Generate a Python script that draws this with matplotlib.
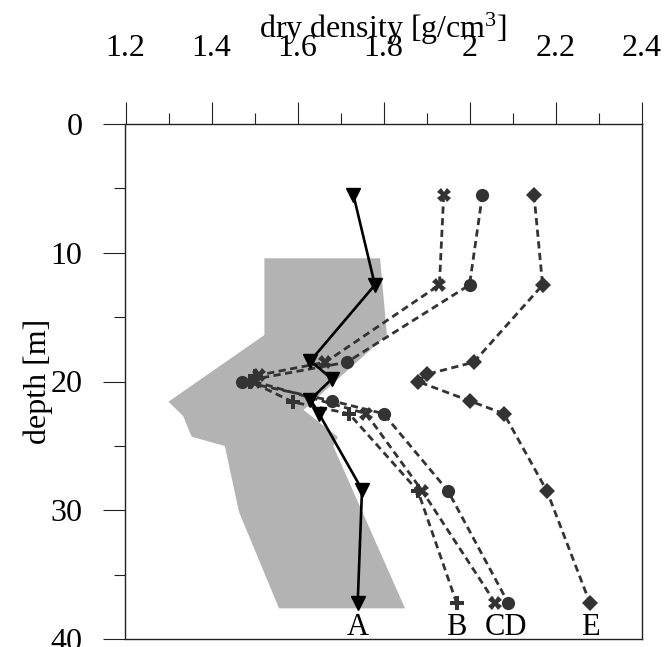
import matplotlib
matplotlib.use("Agg")
import matplotlib.pyplot as plt
from matplotlib.ticker import MultipleLocator

plt.rcParams['font.family'] = ['Liberation Serif', 'DejaVu Serif']
plt.rcParams['mathtext.fontset'] = 'custom'
plt.rcParams['mathtext.rm'] = 'Liberation Serif'
plt.rcParams['mathtext.it'] = 'Liberation Serif:italic'

# ---- data ----
A_depth = [5.5, 12.5, 18.4, 19.8, 21.4, 22.5, 28.4, 37.2]
A_dens = [1.73, 1.78, 1.63, 1.68, 1.63, 1.65, 1.75, 1.74]

B_depth = [19.6, 20.0, 21.6, 22.5, 28.5, 37.2]
B_dens = [1.50, 1.49, 1.59, 1.72, 1.88, 1.97]

C_depth = [5.5, 12.5, 18.5, 19.5, 20.0, 22.5, 28.5, 37.2]
C_dens = [1.94, 1.93, 1.665, 1.51, 1.50, 1.76, 1.89, 2.06]

D_depth = [5.5, 12.5, 18.5, 20.0, 21.5, 22.5, 28.5, 37.2]
D_dens = [2.03, 2.00, 1.715, 1.47, 1.68, 1.80, 1.95, 2.09]

E_depth = [5.5, 12.5, 18.5, 19.45, 20.0, 21.5, 22.5, 28.5, 37.2]
E_dens = [2.15, 2.17, 2.01, 1.90, 1.88, 2.00, 2.08, 2.18, 2.28]

band_dens = [1.523, 1.792, 1.808, 1.614, 1.694, 1.683, 1.755, 1.850,
             1.557, 1.464, 1.431, 1.354, 1.334, 1.300, 1.523]
band_depth = [10.43, 10.43, 16.39, 22.21, 24.31, 25.01, 30.45, 37.62,
              37.62, 30.14, 25.01, 24.29, 22.68, 21.57, 16.39]

labels = ['A', 'B', 'CD', 'E']
label_dens = [1.74, 1.97, 2.085, 2.28]
label_depth = 39.7

xticks = [1.2, 1.4, 1.6, 1.8, 2.0, 2.2, 2.4]
xticklabels = ['1.2', '1.4', '1.6', '1.8', '2', '2.2', '2.4']
yticks = [0, 10, 20, 30, 40]

# ---- figure ----
fig = plt.figure(figsize=(6.71, 6.47), dpi=100)
ax = fig.add_axes([125.5/671, 1-639/647, 516/671, 515/647])

ax.fill(band_dens, band_depth, color='#b3b3b3', lw=0, zorder=1)

dk = '#333333'
dash = (2.6, 1.6)
ax.plot(B_dens, B_depth, ls='--', dashes=dash, color=dk, lw=2, marker='P', ms=10.5, mew=0, zorder=3)
ax.plot(C_dens, C_depth, ls='--', dashes=dash, color=dk, lw=2, marker='X', ms=10, mew=0, zorder=3)
ax.plot(D_dens, D_depth, ls='--', dashes=dash, color=dk, lw=2, marker='o', ms=9.5, mew=0, zorder=3)
ax.plot(E_dens, E_depth, ls='--', dashes=dash, color=dk, lw=2, marker='D', ms=8, mew=0, zorder=3)
ax.plot(A_dens, A_depth, ls='-', color='black', lw=1.9, marker='v', ms=10.5, zorder=4)

for t, x in zip(labels, label_dens):
    ax.text(x, label_depth, t, ha='center', va='baseline', fontsize=22)

ax.set_xlim(1.2, 2.4)
ax.set_ylim(40, 0)
ax.xaxis.set_ticks_position('top')
ax.xaxis.set_label_position('top')
ax.set_xticks(xticks)
ax.set_xticklabels(xticklabels)
ax.xaxis.set_minor_locator(MultipleLocator(0.1))
ax.set_yticks(yticks)
ax.yaxis.set_minor_locator(MultipleLocator(5))
ax.tick_params(axis='both', which='major', direction='out', length=16, width=0.8,
               labelsize=23, color='#222222')
ax.tick_params(axis='both', which='minor', direction='out', length=8, width=0.8,
               color='#222222')
ax.tick_params(axis='x', which='major', pad=28)
ax.tick_params(axis='y', which='major', pad=15)
for s in ax.spines.values():
    s.set_linewidth(1.0)
    s.set_color('#222222')

ax.set_xlabel(r'dry density [g/cm$^3$]', fontsize=23, labelpad=-3)
ax.set_ylabel('depth [m]', fontsize=23, labelpad=-2)

fig.savefig('out.png', dpi=100)
